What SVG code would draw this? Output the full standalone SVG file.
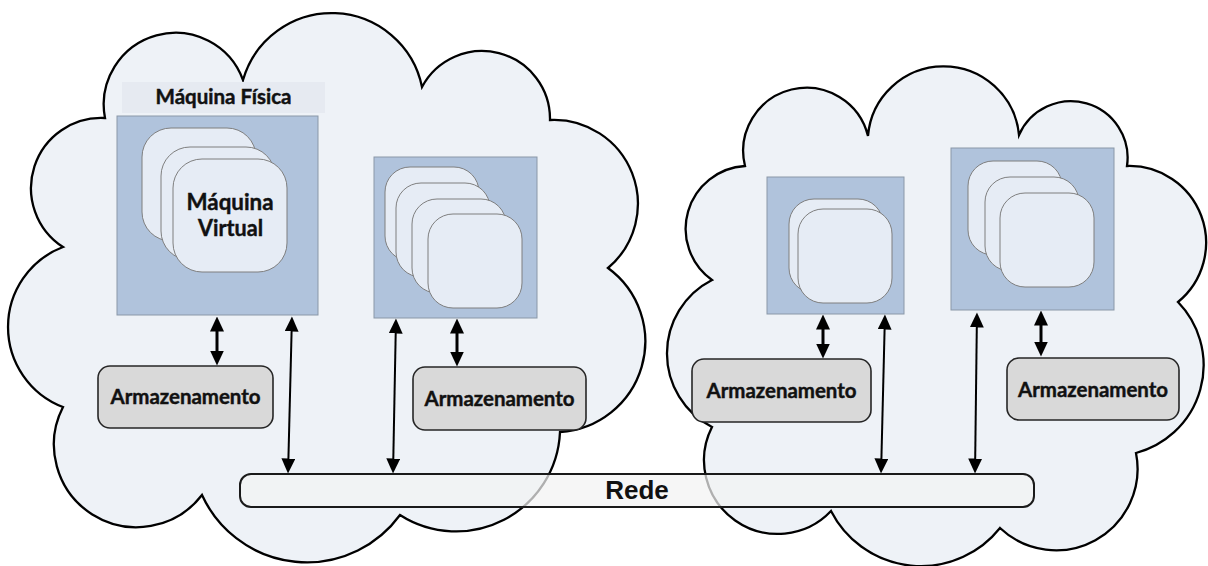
<svg xmlns="http://www.w3.org/2000/svg" width="1208" height="566" viewBox="0 0 1208 566">
  <defs>
    <style>
      .cloud { fill: #eef2f7; stroke: #000; stroke-width: 2.3; stroke-linejoin: miter; }
      .host { fill: #b0c3dc; stroke: #8a97a8; stroke-width: 1; }
      .vm { fill: #e6ecf5; stroke: #7f7f7f; stroke-width: 1; }
      .store { fill: #d9d9d9; stroke: #262626; stroke-width: 1.6; }
      .label { font-family: Lato, "Liberation Sans", sans-serif; font-weight: bold; fill: #111; stroke: #111; stroke-width: 0.45; text-anchor: middle; }
      .link { stroke: #000; fill: none; }
      .thick { stroke-width: 3; }
      .thin { stroke-width: 2; }
      .bus { fill: #f2f2f2; fill-opacity: 0.72; stroke: #1a1a1a; stroke-width: 2; }
    </style>
    <marker id="head" viewBox="0 0 15 14" refX="0.5" refY="7" markerWidth="15" markerHeight="14" markerUnits="userSpaceOnUse" orient="auto-start-reverse">
      <path d="M0,0 L15,7 L0,14 z" fill="#000"/>
    </marker>
  </defs>

  <!-- data-centre clouds -->
  <g id="cloud-left">
    <path class="cloud" d="M63,247 A70.2,70.2 0 0 1 105,118 A71.8,71.8 0 0 1 243,80 A92.2,92.2 0 0 1 422,87 A68,68 0 0 1 550,120 A83.9,83.9 0 0 1 608,268 A90.8,90.8 0 0 1 560,432 A104,104 0 0 1 400,515 A115.3,115.3 0 0 1 202,495 A82.6,82.6 0 0 1 63,407 A85.7,85.7 0 0 1 63,247 Z"/>
  </g>
  <g id="cloud-right">
    <path class="cloud" d="M712,280 A62.9,62.9 0 0 1 745,166 A63.3,63.3 0 0 1 868,136 A75.8,75.8 0 0 1 1019,135 A56.7,56.7 0 0 1 1127,166 A76.7,76.7 0 0 1 1178,302 A90.8,90.8 0 0 1 1136,453 A81.5,81.5 0 0 1 1000,528 A101,101 0 0 1 831,511 A73.6,73.6 0 0 1 712,427 A82.5,82.5 0 0 1 712,280 Z"/>
  </g>

  <!-- physical hosts with their virtual machines -->
  <g id="host-1">
    <rect x="122" y="82" width="203" height="31" fill="#e6eaf1"/>
    <text class="label" x="223.5" y="104" font-size="20" textLength="136" lengthAdjust="spacingAndGlyphs">Máquina Física</text>
    <rect class="host" x="117" y="116" width="201" height="199"/>
    <rect class="vm" x="142" y="128" width="114" height="113" rx="29"/>
    <rect class="vm" x="161" y="147" width="114" height="113" rx="29"/>
    <rect class="vm" x="173" y="159" width="114" height="113" rx="29"/>
    <text class="label" x="230" y="210" font-size="23.5" textLength="87" lengthAdjust="spacingAndGlyphs">Máquina</text>
    <text class="label" x="230.5" y="236" font-size="23.5" textLength="65" lengthAdjust="spacingAndGlyphs">Virtual</text>
  </g>
  <g id="host-2">
    <rect class="host" x="374" y="157" width="163" height="161"/>
    <rect class="vm" x="385" y="167" width="94" height="94" rx="25"/>
    <rect class="vm" x="396" y="183" width="94" height="94" rx="25"/>
    <rect class="vm" x="412" y="199" width="94" height="94" rx="25"/>
    <rect class="vm" x="428" y="214" width="94" height="94" rx="25"/>
  </g>
  <g id="host-3">
    <rect class="host" x="767" y="177" width="137" height="137"/>
    <rect class="vm" x="789" y="199" width="94" height="94" rx="25"/>
    <rect class="vm" x="798" y="209" width="94" height="94" rx="25"/>
  </g>
  <g id="host-4">
    <rect class="host" x="951" y="148" width="163" height="162"/>
    <rect class="vm" x="968" y="161" width="94" height="94" rx="25"/>
    <rect class="vm" x="985" y="177" width="94" height="94" rx="25"/>
    <rect class="vm" x="1000" y="193" width="94" height="94" rx="25"/>
  </g>

  <!-- storage units -->
  <g id="storage-1">
    <rect class="store" x="98" y="366" width="175" height="62" rx="12"/>
    <text class="label" x="185.5" y="404" font-size="21" textLength="150" lengthAdjust="spacingAndGlyphs">Armazenamento</text>
  </g>
  <g id="storage-2">
    <rect class="store" x="413" y="367" width="173" height="63" rx="12"/>
    <text class="label" x="499.5" y="405.5" font-size="21" textLength="150" lengthAdjust="spacingAndGlyphs">Armazenamento</text>
  </g>
  <g id="storage-3">
    <rect class="store" x="692" y="359" width="179" height="63" rx="12"/>
    <text class="label" x="781.5" y="397.5" font-size="21" textLength="150" lengthAdjust="spacingAndGlyphs">Armazenamento</text>
  </g>
  <g id="storage-4">
    <rect class="store" x="1007" y="358" width="172" height="62" rx="12"/>
    <text class="label" x="1093" y="396.5" font-size="21" textLength="150" lengthAdjust="spacingAndGlyphs">Armazenamento</text>
  </g>

  <!-- connectors: host-storage and host-network links -->
  <g id="connectors" marker-start="url(#head)" marker-end="url(#head)">
    <line class="link thick" x1="217" y1="331" x2="217" y2="351"/>
    <line class="link thin" x1="291.6" y1="331" x2="288.4" y2="459"/>
    <line class="link thin" x1="395.7" y1="333" x2="393.3" y2="459"/>
    <line class="link thick" x1="457" y1="333" x2="457" y2="352"/>
    <line class="link thick" x1="823" y1="329" x2="823" y2="344"/>
    <line class="link thin" x1="884.6" y1="329" x2="881.4" y2="459"/>
    <line class="link thin" x1="976.8" y1="327" x2="975.2" y2="459"/>
    <line class="link thick" x1="1041" y1="325" x2="1041" y2="342"/>
  </g>

  <!-- shared network bus -->
  <g id="network">
    <rect class="bus" x="240" y="474" width="794" height="33" rx="11"/>
    <text x="637" y="499" font-family="'Liberation Sans', Arial, sans-serif" font-weight="bold" font-size="26" text-anchor="middle" fill="#111">Rede</text>
  </g>
</svg>
